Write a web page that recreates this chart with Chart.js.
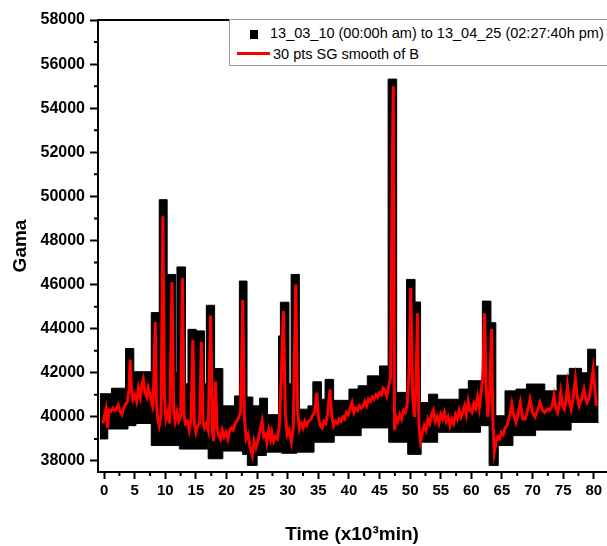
<!DOCTYPE html>
<html lang="en">
<head>
  <meta charset="UTF-8" />
  <title>Gama vs Time</title>
  <script src="https://cdn.jsdelivr.net/npm/chart.js"></script>
  <style>
    html, body {
      margin: 0;
      padding: 0;
      background: #fff;
      overflow: hidden;
    }
    .wrap {
      position: relative;
      width: 607px;
      height: 546px;
    }
    .legend {
      position: absolute;
      left: 229px;
      top: 19px;
      width: 420px;
      height: 45px;
      background: #fff;
      border: 1.5px solid #9a9a9a;
      font-family: 'Liberation Sans', Arial, sans-serif;
      font-size: 14.5px;
      color: #000;
    }
    .legend .sq {
      position: absolute;
      left: 20px;
      top: 10px;
      width: 8px;
      height: 9px;
      background: #000;
    }
    .legend .ln {
      position: absolute;
      left: 7px;
      top: 32px;
      width: 33px;
      height: 3px;
      background: #ff0000;
    }
    .legend .t1 { position: absolute; left: 40px; top: 5px; white-space: nowrap; }
    .legend .t2 { position: absolute; left: 43px; top: 26px; white-space: nowrap; }
  </style>
</head>
<body>
  <div class="wrap">
    <canvas id="gamaChart" width="607" height="546"></canvas>
    <div class="legend">
      <div class="sq"></div><span class="t1">13_03_10 (00:00h am) to 13_04_25 (02:27:40h pm)</span>
      <div class="ln"></div><span class="t2">30 pts SG smooth of B</span>
    </div>
  </div>

  <script>
    // x in 10^3 min
    const smoothX = [
      -0.2, 0.1, 0.3, 0.55, 0.8, 1.1, 1.4, 1.7, 2.0, 2.3, 2.6, 2.9, 3.2, 3.5, 3.8, 4.05, 4.25, 4.45, 4.7,
      5.0, 5.3, 5.6, 5.9, 6.2, 6.4, 6.7, 7.0, 7.2, 7.5, 7.7, 7.9, 8.1, 8.35, 8.55, 8.75, 9.0, 9.3, 9.6, 9.85,
      10.1, 10.4, 10.7, 11.1, 11.35, 11.6, 11.9, 12.2, 12.5, 12.8, 13.05, 13.3, 13.6, 13.9, 14.2, 14.5, 14.75,
      15.0, 15.3, 15.6, 15.9, 16.15, 16.4, 16.7, 17.0, 17.4, 17.7, 17.9, 18.2, 18.45, 18.7, 19.0, 19.3, 19.6, 19.9,
      20.2, 20.5, 20.8, 21.1, 21.4, 21.7, 22.0, 22.3, 22.65, 22.9, 23.2, 23.5, 23.8, 24.2, 24.5, 24.8,
      25.1, 25.4, 25.8, 26.1, 26.4, 26.6, 26.9, 27.2, 27.4, 27.7, 28.0, 28.3, 28.6, 28.9, 29.3, 29.6, 29.9,
      30.2, 30.6, 30.9, 31.3, 31.6, 31.9, 32.2, 32.5, 32.8, 33.1, 33.4, 33.8, 34.1, 34.4, 34.75,
      35.0, 35.3, 35.6, 35.9, 36.2, 36.5, 36.9, 37.2, 37.5, 37.8, 38.1, 38.4, 38.7, 39.0, 39.3, 39.6, 39.9,
      40.2, 40.5, 40.8, 41.1, 41.4, 41.7, 42.0, 42.3, 42.6, 42.9, 43.2, 43.5, 43.8, 44.1, 44.4, 44.7,
      45.0, 45.3, 45.6, 45.9, 46.2, 46.5, 46.8, 47.1, 47.25, 47.45, 47.7, 48.0, 48.3, 48.6, 48.9, 49.2, 49.5, 49.8,
      50.1, 50.4, 50.7, 50.95, 51.2, 51.45, 51.7, 52.0, 52.3, 52.6, 52.9, 53.2, 53.5, 53.8, 54.1, 54.4, 54.7,
      55.0, 55.3, 55.6, 55.9, 56.2, 56.5, 56.8, 57.1, 57.4, 57.7, 58.0, 58.3, 58.6, 58.9, 59.2, 59.5, 59.8,
      60.1, 60.4, 60.7, 61.0, 61.3, 61.6, 61.9, 62.15, 62.4, 62.7, 63.0, 63.3, 63.5, 63.75, 64.0, 64.3, 64.6, 64.9,
      65.2, 65.5, 65.8, 66.2, 66.6, 66.9, 67.3, 67.6, 68.0, 68.4, 68.8, 69.2, 69.6,
      70.0, 70.4, 70.8, 71.2, 71.6, 72.0, 72.4, 72.8, 73.2, 73.5, 73.8, 74.1, 74.4, 74.6, 74.9,
      75.2, 75.5, 75.7, 76.0, 76.3, 76.6, 77.0, 77.3, 77.6, 78.0, 78.4, 78.7, 78.9, 79.3, 79.6, 79.9,
      80.2, 80.4
    ];
    const smoothY = [
      39700, 40100, 40350, 39500, 40300, 40250, 40400, 40300, 40350, 40550, 40250, 40100, 40400, 40550, 40700, 41200, 42600, 41300, 40800,
      41000, 40700, 41300, 40900, 41500, 41700, 41100, 40900, 41300, 41000, 40700, 40500, 41400, 44300, 40600, 39900, 39600, 40100, 49100, 41000,
      39900, 40200, 39700, 46100, 40300, 39800, 40200, 39800, 40000, 46300, 40100, 39700, 39800, 39400, 39900, 43500, 39700,
      39300, 39600, 39700, 43400, 39800, 39500, 39700, 39400, 44600, 39300, 38900, 41600, 39500, 39200, 39000, 39400, 39100, 39300,
      39000, 39400, 39500, 39400, 39700, 39800, 40000, 40200, 45300, 40100, 39000, 39200, 38700, 38250, 38900, 38600,
      38900, 39300, 39800, 39100, 39200, 38850, 39400, 39000, 39300, 38900, 39100, 39000, 39500, 41500, 44800, 40200, 39200,
      39400, 38850, 39500, 46000, 40300, 39450, 39700, 39500, 39800, 39600, 39800, 39900, 40100, 40200, 41100,
      40000, 39600, 39500, 39800, 39700, 40100, 41250, 40000, 39600, 39800, 39700, 39900, 39800, 40000, 39900, 40200, 40100,
      40400, 40650, 40200, 40400, 40300, 40500, 40400, 40500, 40700, 40500, 40800, 40700, 40900, 40800, 41000, 40900,
      41100, 41000, 41300, 41200, 40950, 41400, 41800, 52000, 55000, 39400, 40000, 39800, 40100, 39900, 40300, 40200, 40500, 42000,
      45850, 41000, 40000, 41500, 44700, 39500, 38900, 39300, 39600, 39400, 39900, 39700, 40100, 40300, 39800, 40000, 39700,
      40100, 39900, 40200, 39800, 40000, 39600, 39900, 39700, 40100, 39900, 40300, 40000, 40200, 40500, 40100, 40700, 40300,
      40200, 40600, 40400, 40900, 40400, 41100, 42000, 44700, 41500, 40000, 41200, 44000, 40000, 38400, 38800, 39100, 39000, 39300,
      39200, 39500, 39600, 40000, 40600, 40100, 39750, 40100, 40650, 39900, 39900, 40300, 40800,
      40200, 40000, 40300, 40650, 40300, 40200, 40350, 40300, 40500, 40950, 40400, 40200, 40600, 41100, 40500,
      40350, 40800, 41400, 40700, 40350, 40800, 41700, 40900, 40500, 40800, 41250, 40800, 40650, 40900, 41500, 42150,
      41200, 40500
    ];

    // upper and lower edge of the raw data band (black squares), stepped
    const rawTopX = [
      -0.7, 1.2, 3.5, 4.85, 7.7, 9.0, 10.3, 11.7, 11.9, 13.3, 13.7, 15.05, 16.4, 16.7, 18.05, 19.4, 21.3, 22.1, 23.35,
      24.3, 25.4, 26.7, 28.5, 28.8, 30.2, 30.55, 31.9, 33.3, 34.1, 35.5, 36.1, 37.5, 40.0, 41.5, 43.0, 45.0, 46.4, 47.8,
      49.4, 50.8, 51.7, 53.0, 54.5, 58.0, 59.5, 61.8, 63.2, 64.0, 65.5, 67.3, 69.0, 72.0, 74.0, 76.0, 78.0, 79.0, 80.3, 80.8
    ];
    const rawTopY = [
      41050, 41300, 43100, 42050, 44730, 49850, 46460, 42000, 46800, 41500, 43970, 43900, 41500, 45060, 42190, 40500, 40950, 46160, 40900,
      40500, 40850, 40100, 43670, 45200, 41500, 46460, 40350, 40500, 41590, 40800, 41700, 40750, 41260, 41410, 41860, 42310, 55320, 41110,
      46235, 45210, 40650, 41030, 40800, 41260, 41640, 45250, 44270, 40050, 41180, 41260, 41490, 41180, 41890, 42200, 42000, 43070, 42300, 42300
    ];
    const rawBotX = [
      -0.7, 0.6, 3.9, 5.2, 7.7, 12.3, 17.0, 19.4, 22.6, 23.4, 25.0, 26.5, 29.0, 31.5, 34.3, 37.6, 42.0, 46.5,
      49.6, 51.8, 54.5, 61.5, 62.9, 64.4, 66.8, 70.5, 76.3, 80.8
    ];
    const rawBotY = [
      39000, 39450, 39600, 39700, 38700, 38540, 38100, 38450, 38300, 37800, 38250, 38400, 38350, 38400, 38850, 39150, 39500, 38850,
      38300, 38850, 39300, 39600, 37800, 38700, 39150, 39400, 39750, 39750
    ];

    const xTicks = [0, 5, 10, 15, 20, 25, 30, 35, 40, 45, 50, 55, 60, 65, 70, 75, 80];
    const yTicks = [38000, 40000, 42000, 44000, 46000, 48000, 50000, 52000, 54000, 56000, 58000];
    const xMinor = [2.5, 7.5, 12.5, 17.5, 22.5, 27.5, 32.5, 37.5, 42.5, 47.5, 52.5, 57.5, 62.5, 67.5, 72.5, 77.5];
    const yMinor = [39000, 41000, 43000, 45000, 47000, 49000, 51000, 53000, 55000, 57000];

    const toPts = (xs, ys) => xs.map((x, i) => ({ x: x, y: ys[i] }));

    // short minor ticks + top frame line
    const frame = {
      id: 'frame',
      afterDraw(chart) {
        const ctx = chart.ctx;
        const a = chart.chartArea;
        const xs = chart.scales.x, ys = chart.scales.y;
        ctx.save();
        ctx.strokeStyle = '#000';
        ctx.lineWidth = 2;
        ctx.beginPath();
        ctx.moveTo(a.left - 1, a.top);
        ctx.lineTo(a.right + 2, a.top);
        xMinor.forEach(v => {
          const p = xs.getPixelForValue(v);
          ctx.moveTo(p, a.bottom);
          ctx.lineTo(p, a.bottom + 4);
        });
        yMinor.forEach(v => {
          const p = ys.getPixelForValue(v);
          ctx.moveTo(a.left, p);
          ctx.lineTo(a.left - 4, p);
        });
        ctx.stroke();
        ctx.restore();
      }
    };

    Chart.defaults.font.family = "'Liberation Sans', Arial, sans-serif";
    Chart.defaults.color = '#000';

    new Chart(document.getElementById('gamaChart'), {
      type: 'line',
      data: {
        datasets: [
          {
            label: '30 pts SG smooth of B',
            data: toPts(smoothX, smoothY),
            borderColor: '#ff0000',
            borderWidth: 3,
            pointRadius: 0,
            fill: false,
            order: 0
          },
          {
            label: '13_03_10 (00:00h am) to 13_04_25 (02:27:40h pm)',
            data: toPts(rawTopX, rawTopY),
            borderColor: '#000',
            backgroundColor: '#000',
            borderWidth: 1,
            pointRadius: 0,
            stepped: 'before',
            fill: { target: 2 },
            order: 1
          },
          {
            label: 'lower',
            data: toPts(rawBotX, rawBotY),
            borderColor: '#000',
            borderWidth: 1,
            pointRadius: 0,
            stepped: 'before',
            fill: false,
            order: 2
          }
        ]
      },
      options: {
        responsive: false,
        animation: false,
        layout: { padding: { left: 9, top: 20, right: 1, bottom: 0 } },
        plugins: {
          legend: { display: false },
          tooltip: { enabled: false }
        },
        scales: {
          x: {
            type: 'linear',
            min: -1,
            max: 82,
            afterBuildTicks: s => { s.ticks = xTicks.map(v => ({ value: v })); },
            afterFit: s => { s.height = 74; },
            border: { display: true, color: '#000', width: 2 },
            grid: { drawOnChartArea: false, drawTicks: true, tickLength: 7, tickColor: '#000', tickWidth: 2 },
            ticks: { font: { size: 15, weight: 'bold' }, padding: 3, maxRotation: 0, callback: v => String(v) },
            title: { display: true, text: 'Time (x10³min)', font: { size: 19, weight: 'bold' }, padding: 0 }
          },
          y: {
            min: 37500,
            max: 58000,
            afterBuildTicks: s => { s.ticks = yTicks.map(v => ({ value: v })); },
            afterFit: s => { s.width = 89; },
            border: { display: true, color: '#000', width: 2 },
            grid: { drawOnChartArea: false, drawTicks: true, tickLength: 8, tickColor: '#000', tickWidth: 2 },
            ticks: { font: { size: 16, weight: 'bold' }, padding: 5, callback: v => String(v) },
            title: { display: true, text: 'Gama', font: { size: 19, weight: 'bold' }, padding: 0 }
          }
        }
      },
      plugins: [frame]
    });
  </script>
</body>
</html>
